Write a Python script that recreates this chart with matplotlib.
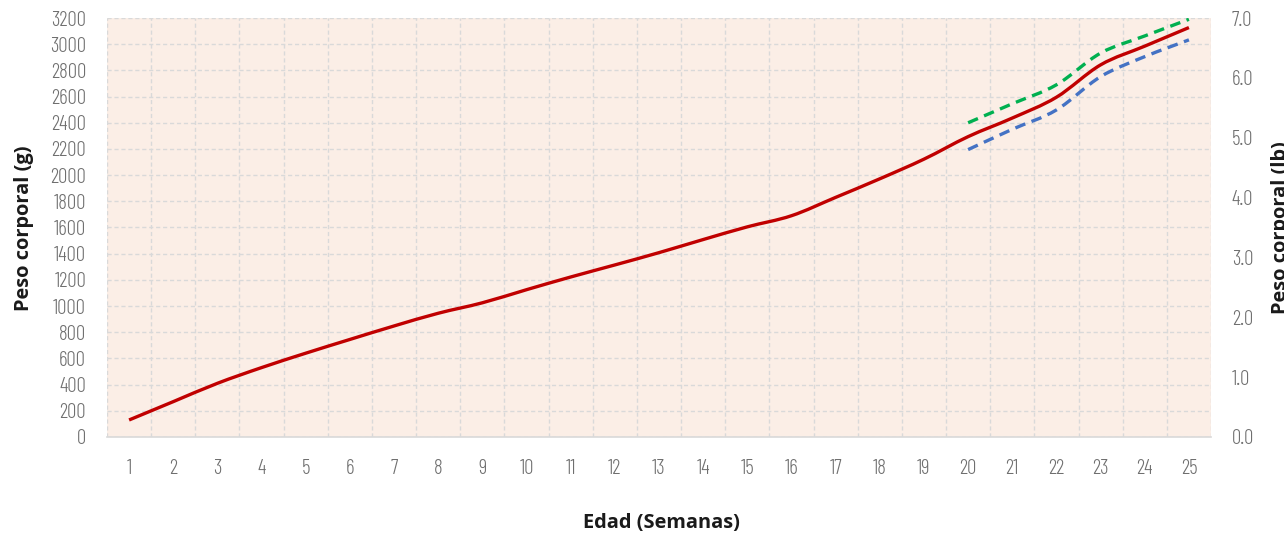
import matplotlib
matplotlib.use('Agg')
import matplotlib.pyplot as plt
from matplotlib.path import Path
from matplotlib.patches import PathPatch
import numpy as np

weeks = list(range(1, 26))
peso_objetivo = [130, 270, 410, 530, 640, 745, 848, 945, 1025, 1125,
                 1222, 1314, 1408, 1508, 1605, 1690, 1830, 1972, 2122, 2294,
                 2436, 2595, 2842, 2985, 3127]
weeks_rango = [20, 21, 22, 23, 24, 25]
peso_max = [2400, 2545, 2690, 2932, 3063, 3190]
peso_min = [2195, 2350, 2498, 2752, 2905, 3033]

TICK_FONT = ['Barlow Condensed', 'DejaVu Sans']
LABEL_FONT = ['Open Sans', 'DejaVu Sans']


def smooth_path(x, y):
    # Excel-style smoothed line: cubic Bezier through every point
    pts = np.column_stack([x, y]).astype(float)
    verts = [pts[0]]
    codes = [Path.MOVETO]
    n = len(pts)
    for i in range(n - 1):
        p0 = pts[max(i - 1, 0)]
        p1 = pts[i]
        p2 = pts[i + 1]
        p3 = pts[min(i + 2, n - 1)]
        c1 = p1 + (p2 - p0) / 6.0
        c2 = p2 - (p3 - p1) / 6.0
        verts += [c1, c2, p2]
        codes += [Path.CURVE4] * 3
    return Path(verts, codes)


def draw_line(ax, x, y, color, dashed=False):
    patch = PathPatch(smooth_path(x, y), fill=False, edgecolor=color,
                      linewidth=2.4, zorder=3, capstyle='butt')
    if dashed:
        patch.set_linestyle((0, (3.2, 2.0)))
    ax.add_patch(patch)


def style_ticks(labels):
    for lbl in labels:
        lbl.set_fontfamily(TICK_FONT)
        lbl.set_fontweight(300)


def main():
    fig = plt.figure(figsize=(12.84, 5.36), dpi=100)
    ax = fig.add_axes([107 / 1284, 99 / 536, 1104 / 1284, 419 / 536])
    ax.set_facecolor('#FBEEE6')

    draw_line(ax, weeks, peso_objetivo, '#C00000')
    draw_line(ax, weeks_rango, peso_max, '#00B050', dashed=True)
    draw_line(ax, weeks_rango, peso_min, '#4472C4', dashed=True)

    ax.set_xlim(0.5, 25.5)
    ax.set_ylim(0, 3200)
    ax.set_xticks(weeks)
    ax.set_xticklabels([str(w) for w in weeks])
    ax.set_yticks(np.arange(0, 3201, 200))
    ax.set_xticks(np.arange(0.5, 25.6, 1), minor=True)

    ax.grid(True, which='major', axis='y', color='#D9D9D9',
            linestyle=(0, (3, 2)), linewidth=1.0, zorder=1)
    ax.grid(True, which='minor', axis='x', color='#D9D9D9',
            linestyle=(0, (3, 2)), linewidth=1.0, zorder=1)
    ax.set_axisbelow(True)

    for side in ['top', 'left', 'right']:
        ax.spines[side].set_visible(False)
    ax.spines['bottom'].set_color('#D9D9D9')
    ax.spines['bottom'].set_linewidth(1.2)

    ax.tick_params(axis='x', which='both', length=0, pad=16,
                   labelsize=15, labelcolor='#6F6F6F')
    ax.tick_params(axis='y', length=0, pad=15, labelsize=15,
                   labelcolor='#6F6F6F')
    style_ticks(ax.get_xticklabels() + ax.get_yticklabels())

    ax2 = ax.twinx()
    ax2.set_ylim(0, 7)
    ax2.set_yticks(np.arange(0, 7.1, 1))
    ax2.set_yticklabels(['%.1f' % v for v in np.arange(0, 7.1, 1)])
    ax2.tick_params(axis='y', length=0, pad=15, labelsize=15,
                    labelcolor='#6F6F6F')
    style_ticks(ax2.get_yticklabels())
    for side in ax2.spines:
        ax2.spines[side].set_visible(False)

    fig.text(24 / 1284, 1 - 228 / 536, 'Peso corporal (g)', rotation=90,
             ha='center', va='center', fontsize=14.4, fontweight='bold',
             family=LABEL_FONT, color='#1A1A1A')
    fig.text(1281 / 1284, 1 - 228 / 536, 'Peso corporal (lb)', rotation=90,
             ha='center', va='center', fontsize=14.4, fontweight='bold',
             family=LABEL_FONT, color='#1A1A1A')
    fig.text(661 / 1284, 1 - 523 / 536, 'Edad (Semanas)',
             ha='center', va='center', fontsize=14.4, fontweight='bold',
             family=LABEL_FONT, color='#1A1A1A')

    fig.savefig('out.png', dpi=100, facecolor='white')


if __name__ == '__main__':
    main()
